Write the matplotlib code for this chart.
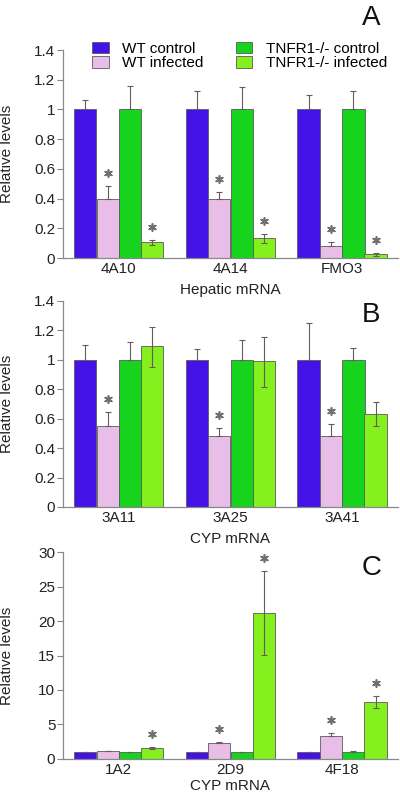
import matplotlib
matplotlib.use("Agg")
import matplotlib.pyplot as plt
from matplotlib.transforms import offset_copy
import numpy as np

plt.rcParams['font.family'] = ['Liberation Sans', 'DejaVu Sans']

series_names = ["WT control", "WT infected", "TNFR1-/- control", "TNFR1-/- infected"]
colors = ["#4212e6", "#e8bde8", "#16d41e", "#84f01e"]

# Panel A
cats_a = ["4A10", "4A14", "FMO3"]
vals_a = [[1.0, 1.0, 1.0], [0.40, 0.40, 0.078], [1.0, 1.0, 1.0], [0.105, 0.134, 0.025]]
err_up_a = [[0.065, 0.125, 0.098], [0.084, 0.046, 0.032], [0.16, 0.154, 0.125], [0.018, 0.031, 0.008]]
err_lo_a = [[0, 0, 0], [0, 0, 0], [0, 0, 0], [0.018, 0.031, 0.008]]
star_a = [[0, 0, 0], [1, 1, 1], [0, 0, 0], [1, 1, 1]]

# Panel B
cats_b = ["3A11", "3A25", "3A41"]
vals_b = [[1.0, 1.0, 1.0], [0.549, 0.479, 0.479], [1.0, 1.0, 1.0], [1.094, 0.992, 0.635]]
err_up_b = [[0.10, 0.071, 0.25], [0.098, 0.061, 0.084], [0.119, 0.132, 0.078], [0.131, 0.165, 0.08]]
err_lo_b = [[0, 0, 0], [0, 0, 0], [0, 0, 0], [0.146, 0.175, 0.084]]
star_b = [[0, 0, 0], [1, 1, 1], [0, 0, 0], [0, 0, 0]]

# Panel C
cats_c = ["1A2", "2D9", "4F18"]
vals_c = [[0.96, 0.98, 0.98], [1.1, 2.27, 3.33], [1.0, 1.0, 1.0], [1.6, 21.1, 8.2]]
err_up_c = [[0.08, 0.08, 0.1], [0.1, 0.19, 0.37], [0.08, 0.08, 0.1], [0.18, 6.1, 0.9]]
err_lo_c = [[0, 0, 0], [0, 0, 0], [0, 0, 0], [0.18, 6.05, 0.87]]
star_c = [[0, 0, 0], [0, 1, 1], [0, 0, 0], [1, 1, 1]]

fig = plt.figure(figsize=(4.0, 7.96), dpi=100)

panels = [
    dict(rect=[0.1575, 0.6758, 0.8375, 0.2613], cats=cats_a, vals=vals_a, eu=err_up_a, el=err_lo_a,
         star=star_a, ylim=(0, 1.4), yt=[0, 0.2, 0.4, 0.6, 0.8, 1.0, 1.2, 1.4],
         ytl=["0", "0.2", "0.4", "0.6", "0.8", "1", "1.2", "1.4"], xlabel="Hepatic mRNA", letter="A",
         letter_y=1 - 18 / 796, lpad=5),
    dict(rect=[0.1575, 0.3631, 0.8375, 0.2588], cats=cats_b, vals=vals_b, eu=err_up_b, el=err_lo_b,
         star=star_b, ylim=(0, 1.4), yt=[0, 0.2, 0.4, 0.6, 0.8, 1.0, 1.2, 1.4],
         ytl=["0", "0.2", "0.4", "0.6", "0.8", "1", "1.2", "1.4"], xlabel="CYP mRNA", letter="B",
         letter_y=1 - 315 / 796, lpad=5),
    dict(rect=[0.1575, 0.0465, 0.8375, 0.2600], cats=cats_c, vals=vals_c, eu=err_up_c, el=err_lo_c,
         star=star_c, ylim=(0, 30), yt=[0, 5, 10, 15, 20, 25, 30],
         ytl=["0", "5", "10", "15", "20", "25", "30"], xlabel="CYP mRNA", letter="C",
         letter_y=1 - 568 / 796, lpad=1),
]

w = 0.2
offsets = [-1.5 * w, -0.5 * w, 0.5 * w, 1.5 * w]
axes = []
for p in panels:
    ax = fig.add_axes(p["rect"])
    axes.append(ax)
    x = np.arange(len(p["cats"]))
    star_trans = offset_copy(ax.transData, fig=fig, x=0, y=13, units="dots")
    handles = []
    for i in range(4):
        h = ax.bar(x + offsets[i], p["vals"][i], width=w, color=colors[i], edgecolor="#5a5a5a",
                   linewidth=0.6, zorder=2, label=series_names[i])
        handles.append(h)
        ax.errorbar(x + offsets[i], p["vals"][i], yerr=[p["el"][i], p["eu"][i]], fmt="none",
                    ecolor="#6a5a5a", elinewidth=0.8, capsize=2.5, capthick=0.8, zorder=3)
        for j in range(len(x)):
            if p["star"][i][j]:
                top = p["vals"][i][j] + p["eu"][i][j]
                ax.scatter([x[j] + offsets[i]], [top], marker=(6, 2, 0), s=28, linewidths=1.2,
                           color="#707070", transform=star_trans, zorder=4, clip_on=False)
    ax.set_xlim(-0.5, 2.5)
    ax.set_ylim(*p["ylim"])
    ax.set_yticks(p["yt"])
    ax.set_yticklabels(p["ytl"])
    ax.set_xticks(x)
    ax.set_xticklabels(p["cats"])
    ax.tick_params(axis="x", length=0, labelsize=11, pad=3, colors="#222222")
    ax.tick_params(axis="y", length=4.5, width=0.8, labelsize=11, pad=1, color="#888888",
                   labelcolor="#222222")
    for s in ["top", "right"]:
        ax.spines[s].set_visible(False)
    for s in ["left", "bottom"]:
        ax.spines[s].set_color("#888888")
        ax.spines[s].set_linewidth(0.9)
    ax.set_ylabel("Relative levels", fontsize=11, color="#222222")
    ax.set_xlabel(p["xlabel"], fontsize=11, color="#222222", labelpad=p["lpad"])
    fig.text(0.928, p["letter_y"], p["letter"], fontsize=20, ha="center", va="center",
             color="#111111")
    if p["letter"] == "A":
        ax.legend(handles=handles, labels=series_names, ncol=2, loc="upper left",
                  bbox_to_anchor=(0.088, 1.04), frameon=False, fontsize=11,
                  handlelength=1.05, handleheight=0.8, columnspacing=2.1,
                  labelspacing=0.0, handletextpad=0.9, borderaxespad=0, borderpad=0)

for ax in axes:
    ax.yaxis.set_label_coords(-0.145, 0.5)

fig.savefig("out.png", dpi=100)
